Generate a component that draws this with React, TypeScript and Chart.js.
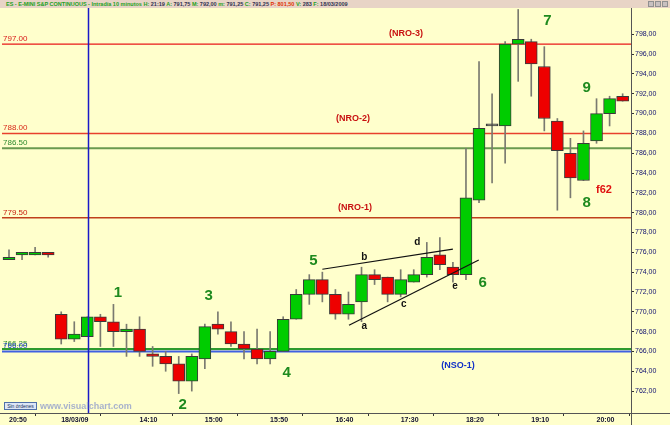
import React, { useEffect, useRef } from 'react';
import { Chart, registerables } from 'chart.js';

Chart.register(...registerables);

// ---------- data ----------
const opens = [
  775.25, 775.75, 775.75, 776.0, 769.75, 767.25, 767.5, 769.5, 769.0, 768.0,
  768.25, 765.75, 765.5, 764.75, 763.0, 765.25, 768.75, 768.0, 766.75, 766.25,
  765.25, 766.0, 769.25, 771.75, 773.25, 771.75, 769.75, 771.0, 773.75, 773.5,
  771.75, 773.0, 773.75, 775.75, 774.5, 773.75, 781.25, 788.75, 788.75, 797.0,
  797.25, 794.75, 789.25, 786.0, 783.25, 787.25, 790.0, 791.75,
];
const highs = [
  776.25, 776.0, 776.5, 776.0, 770.0, 769.0, 769.5, 769.75, 770.75, 768.75,
  769.5, 766.5, 766.0, 765.5, 765.75, 768.75, 770.0, 769.0, 768.0, 768.25,
  768.0, 769.5, 772.25, 773.75, 774.0, 772.25, 772.0, 774.5, 774.25, 773.5,
  774.25, 774.25, 777.0, 777.5, 775.0, 786.5, 795.25, 792.0, 797.25, 800.5,
  797.5, 796.75, 789.5, 787.5, 788.25, 791.5, 791.75, 792.0,
];
const lows = [
  775.25, 775.25, 775.75, 775.5, 766.75, 767.0, 767.5, 766.5, 766.5, 765.5,
  765.5, 764.5, 764.0, 761.75, 762.0, 764.25, 767.75, 766.5, 765.25, 764.75,
  764.75, 766.0, 769.25, 770.75, 771.0, 769.25, 769.25, 769.0, 772.75, 771.0,
  771.5, 773.0, 773.5, 774.25, 773.0, 773.25, 781.0, 783.0, 785.0, 793.25,
  791.75, 788.25, 780.25, 781.5, 783.25, 787.0, 788.75, 791.25,
];
const closes = [
  775.5, 776.0, 776.0, 775.75, 767.25, 767.75, 769.5, 769.0, 768.0, 768.25,
  766.0, 765.5, 764.75, 763.0, 765.5, 768.5, 768.25, 766.75, 766.25, 765.25,
  766.0, 769.25, 771.75, 773.25, 771.75, 769.75, 770.75, 773.75, 773.25, 771.75,
  773.25, 773.75, 775.5, 774.75, 773.75, 781.5, 788.5, 788.75, 797.0, 797.5,
  795.0, 789.5, 786.25, 783.5, 787.0, 790.0, 791.5, 791.25,
];

const timeTickIdx = [0, 4, 10, 15, 20, 25, 30, 35, 40, 45];
const timeTickLabels = ['20:50', '18/03/09', '14:10', '15:00', '15:50', '16:40', '17:30', '18:20', '19:10', '20:00'];

const priceTicks = [762, 764, 766, 768, 770, 772, 774, 776, 778, 780, 782, 784, 786, 788, 790, 792, 794, 796, 798];

const levelValues = [797.0, 788.0, 786.5, 779.5, 766.25, 766.0];
const levelLabels = ['797.00', '788.00', '786.50', '779.50', '766.25', '766.00'];

const zoneTexts = ['(NRO-3)', '(NRO-2)', '(NRO-1)', '(NSO-1)'];
const zoneX = [30.4, 26.35, 26.5, 34.39];
const zoneY = [798.08, 789.55, 780.57, 764.63];

const waveTexts = ['1', '2', '3', '4', '5', '6', '7', '8', '9'];
const waveX = [8.35, 13.3, 15.29, 21.27, 23.31, 36.28, 41.23, 44.24, 44.24];
const waveY = [771.92, 760.6, 771.62, 763.85, 775.12, 772.87, 799.37, 780.95, 792.61];

const letterTexts = ['a', 'b', 'c', 'd', 'e'];
const letterX = [27.21, 27.21, 30.23, 31.27, 34.16];
const letterY = [768.5, 775.5, 770.75, 777.01, 772.53];

const fibText = 'f62';
const fibX = 45.57;
const fibY = 782.29;

// trend lines: [x1, y1, x2, y2]
const upperTrend = [24.0, 774.29, 34.0, 776.33];
const lowerTrend = [26.04, 768.64, 35.98, 775.22];

const sessionMarkIdx = 6.03;

// ---------- styles ----------
const BG = '#FFFFCC';
const GREEN_BODY = '#00CC00';
const RED_BODY = '#EE0000';
const levelColors = ['#E81818', '#E8402C', '#6A9A50', '#C0401C', '#2E9A2E', '#4060E0'];
const levelWidths = [1.2, 1.5, 2, 1.5, 2, 2];
const levelTextColors = ['#D81818', '#D82818', '#2E8A2E', '#C82010', '#2E8A2E', '#2040D0'];

const overlay = {
  id: 'overlay',
  beforeDatasetsDraw(chart: any) {
    const { ctx, chartArea, scales } = chart;
    const y = scales.y;
    ctx.save();
    levelValues.forEach((v, i) => {
      const py = y.getPixelForValue(v);
      ctx.strokeStyle = levelColors[i];
      ctx.lineWidth = levelWidths[i];
      ctx.beginPath();
      ctx.moveTo(chartArea.left, py);
      ctx.lineTo(chartArea.right, py);
      ctx.stroke();
    });
    ctx.font = '8px Arial, "Liberation Sans", sans-serif';
    ctx.textAlign = 'left';
    ctx.textBaseline = 'alphabetic';
    levelValues.forEach((v, i) => {
      const py = y.getPixelForValue(v);
      ctx.fillStyle = levelTextColors[i];
      ctx.fillText(levelLabels[i], chartArea.left + 1, py - 3);
    });
    ctx.restore();
  },
  afterDatasetsDraw(chart: any) {
    const { ctx, chartArea, scales } = chart;
    const x = scales.x;
    const y = scales.y;
    ctx.save();
    const vx = Math.round(x.getPixelForValue(sessionMarkIdx)) + 0.5;
    ctx.strokeStyle = '#1A1AC8';
    ctx.lineWidth = 1.5;
    ctx.beginPath();
    ctx.moveTo(vx, chartArea.top);
    ctx.lineTo(vx, chartArea.bottom);
    ctx.stroke();

    ctx.strokeStyle = '#111111';
    ctx.lineWidth = 1.2;
    [upperTrend, lowerTrend].forEach((t) => {
      ctx.beginPath();
      ctx.moveTo(x.getPixelForValue(t[0]), y.getPixelForValue(t[1]));
      ctx.lineTo(x.getPixelForValue(t[2]), y.getPixelForValue(t[3]));
      ctx.stroke();
    });

    ctx.textAlign = 'center';
    ctx.textBaseline = 'middle';
    ctx.font = 'bold 9px Arial, "Liberation Sans", sans-serif';
    zoneTexts.forEach((t, i) => {
      ctx.fillStyle = i === 3 ? '#1030C8' : '#C81010';
      ctx.fillText(t, x.getPixelForValue(zoneX[i]), y.getPixelForValue(zoneY[i]));
    });
    ctx.font = 'bold 15px Arial, "Liberation Sans", sans-serif';
    ctx.fillStyle = '#1E8A1E';
    waveTexts.forEach((t, i) => {
      ctx.fillText(t, x.getPixelForValue(waveX[i]), y.getPixelForValue(waveY[i]));
    });
    ctx.font = 'bold 10px Arial, "Liberation Sans", sans-serif';
    ctx.fillStyle = '#111111';
    letterTexts.forEach((t, i) => {
      ctx.fillText(t, x.getPixelForValue(letterX[i]), y.getPixelForValue(letterY[i]));
    });
    ctx.font = 'bold 11px Arial, "Liberation Sans", sans-serif';
    ctx.fillStyle = '#E01010';
    ctx.fillText(fibText, x.getPixelForValue(fibX), y.getPixelForValue(fibY));
    ctx.restore();
  },
  afterDraw(chart: any) {
    const { ctx, chartArea, width, height } = chart;
    ctx.save();
    ctx.strokeStyle = '#555555';
    ctx.lineWidth = 1;
    ctx.beginPath();
    ctx.moveTo(0, Math.round(chartArea.bottom) + 0.5);
    ctx.lineTo(width, Math.round(chartArea.bottom) + 0.5);
    ctx.moveTo(Math.round(chartArea.right) + 0.5, chartArea.top);
    ctx.lineTo(Math.round(chartArea.right) + 0.5, height);
    ctx.stroke();
    ctx.restore();
  },
};

export default function App() {
  const canvasRef = useRef<HTMLCanvasElement | null>(null);

  useEffect(() => {
    if (!canvasRef.current) return;
    const n = opens.length;
    const idx = Array.from({ length: n }, (_, i) => i);
    const bodyColors = idx.map((i) =>
      closes[i] > opens[i] ? GREEN_BODY : closes[i] < opens[i] ? RED_BODY : '#555555'
    );
    const chart = new Chart(canvasRef.current, {
      type: 'bar',
      data: {
        datasets: [
          {
            label: 'body',
            data: idx.map((i) => ({ x: i, y: [opens[i], closes[i]] })) as any,
            backgroundColor: bodyColors,
            borderColor: '#3A3A3A',
            borderWidth: 1,
            borderSkipped: false,
            barThickness: 12,
            minBarLength: 2,
            grouped: false,
            order: 1,
          } as any,
          {
            label: 'wick',
            data: idx.map((i) => ({ x: i, y: [lows[i], highs[i]] })) as any,
            backgroundColor: '#7A7A70',
            borderWidth: 0,
            barThickness: 1,
            grouped: false,
            order: 2,
          } as any,
        ],
      },
      options: {
        animation: false,
        responsive: false,
        maintainAspectRatio: false,
        layout: { padding: { left: 2, top: 8, right: 0, bottom: 0 } },
        plugins: {
          legend: { display: false },
          tooltip: { enabled: false },
          title: { display: false },
        },
        scales: {
          x: {
            type: 'linear',
            min: -0.536,
            max: 47.64,
            offset: false,
            grid: { drawOnChartArea: false, drawTicks: true, tickLength: 3, color: '#333333' },
            border: { display: false },
            afterBuildTicks: (s: any) => {
              s.ticks = timeTickIdx.map((v) => ({ value: v }));
            },
            afterFit: (s: any) => {
              s.height = 12;
            },
            ticks: {
              autoSkip: false,
              maxRotation: 0,
              minRotation: 0,
              align: 'start',
              padding: 0,
              color: '#101030',
              font: { family: 'Arial, "Liberation Sans", sans-serif', size: 7, weight: 'bold' },
              callback: (v: any) => {
                const k = timeTickIdx.indexOf(Number(v));
                return k >= 0 ? timeTickLabels[k] : '';
              },
            },
          } as any,
          y: {
            type: 'linear',
            position: 'right',
            min: 759.79,
            max: 800.65,
            grid: { drawOnChartArea: false, drawTicks: true, tickLength: 3, color: '#333333' },
            border: { display: false },
            afterBuildTicks: (s: any) => {
              s.ticks = priceTicks.map((v) => ({ value: v }));
            },
            afterFit: (s: any) => {
              s.width = 39;
            },
            ticks: {
              padding: 1,
              color: '#101070',
              font: { family: 'Arial, "Liberation Sans", sans-serif', size: 7 },
              callback: (v: any) => Number(v).toFixed(2).replace('.', ','),
            },
          } as any,
        },
      },
      plugins: [overlay],
    });
    return () => chart.destroy();
  }, []);

  const hdrFont = 'bold 5.5px Arial, "Liberation Sans", sans-serif';
  const g = '#22A022';
  const d = '#303050';
  return (
    <div style={{ position: 'absolute', left: 0, top: 0, width: 670, height: 425, background: BG, overflow: 'hidden' }}>
      <canvas ref={canvasRef} width={670} height={425} style={{ display: 'block', width: 670, height: 425 }} />
      <div
        style={{
          position: 'absolute', left: 0, top: 0, width: 670, height: 8, background: '#E8D4C6',
          font: hdrFont, lineHeight: '8px', whiteSpace: 'nowrap', paddingLeft: 6, boxSizing: 'border-box',
        }}
      >
        <span style={{ color: g }}>ES - E-MINI S&amp;P CONTINUOUS - Intradía 10 minutos </span>
        <span style={{ color: g }}>H: </span><span style={{ color: d }}>21:19 </span>
        <span style={{ color: g }}>A: </span><span style={{ color: d }}>791,75 </span>
        <span style={{ color: g }}>M: </span><span style={{ color: d }}>792,00 </span>
        <span style={{ color: g }}>m: </span><span style={{ color: d }}>791,25 </span>
        <span style={{ color: g }}>C: </span><span style={{ color: d }}>791,25 </span>
        <span style={{ color: '#E03000' }}>P: 801,50 </span>
        <span style={{ color: g }}>V: </span><span style={{ color: d }}>283 </span>
        <span style={{ color: g }}>F: </span><span style={{ color: d }}>18/03/2009</span>
      </div>
      {[0, 1, 2].map((k) => (
        <div
          key={k}
          style={{
            position: 'absolute', left: 648 + k * 7, top: 1, width: 6, height: 6,
            background: '#C8C0C0', border: '1px solid #909090', boxSizing: 'border-box',
          }}
        />
      ))}
      <div
        style={{
          position: 'absolute', left: 4, top: 402, width: 33, height: 8, border: '1px solid #5070A8',
          background: '#DDE6F6', boxSizing: 'border-box', font: '5px Arial, "Liberation Sans", sans-serif',
          lineHeight: '6px', color: '#203060', textAlign: 'center', whiteSpace: 'nowrap', overflow: 'hidden',
        }}
      >
        Sin órdenes
      </div>
      <div
        style={{
          position: 'absolute', left: 40, top: 401, font: 'bold 9px Arial, "Liberation Sans", sans-serif',
          lineHeight: '10px', color: '#A8B2CC', whiteSpace: 'nowrap',
        }}
      >
        www.visualchart.com
      </div>
    </div>
  );
}
